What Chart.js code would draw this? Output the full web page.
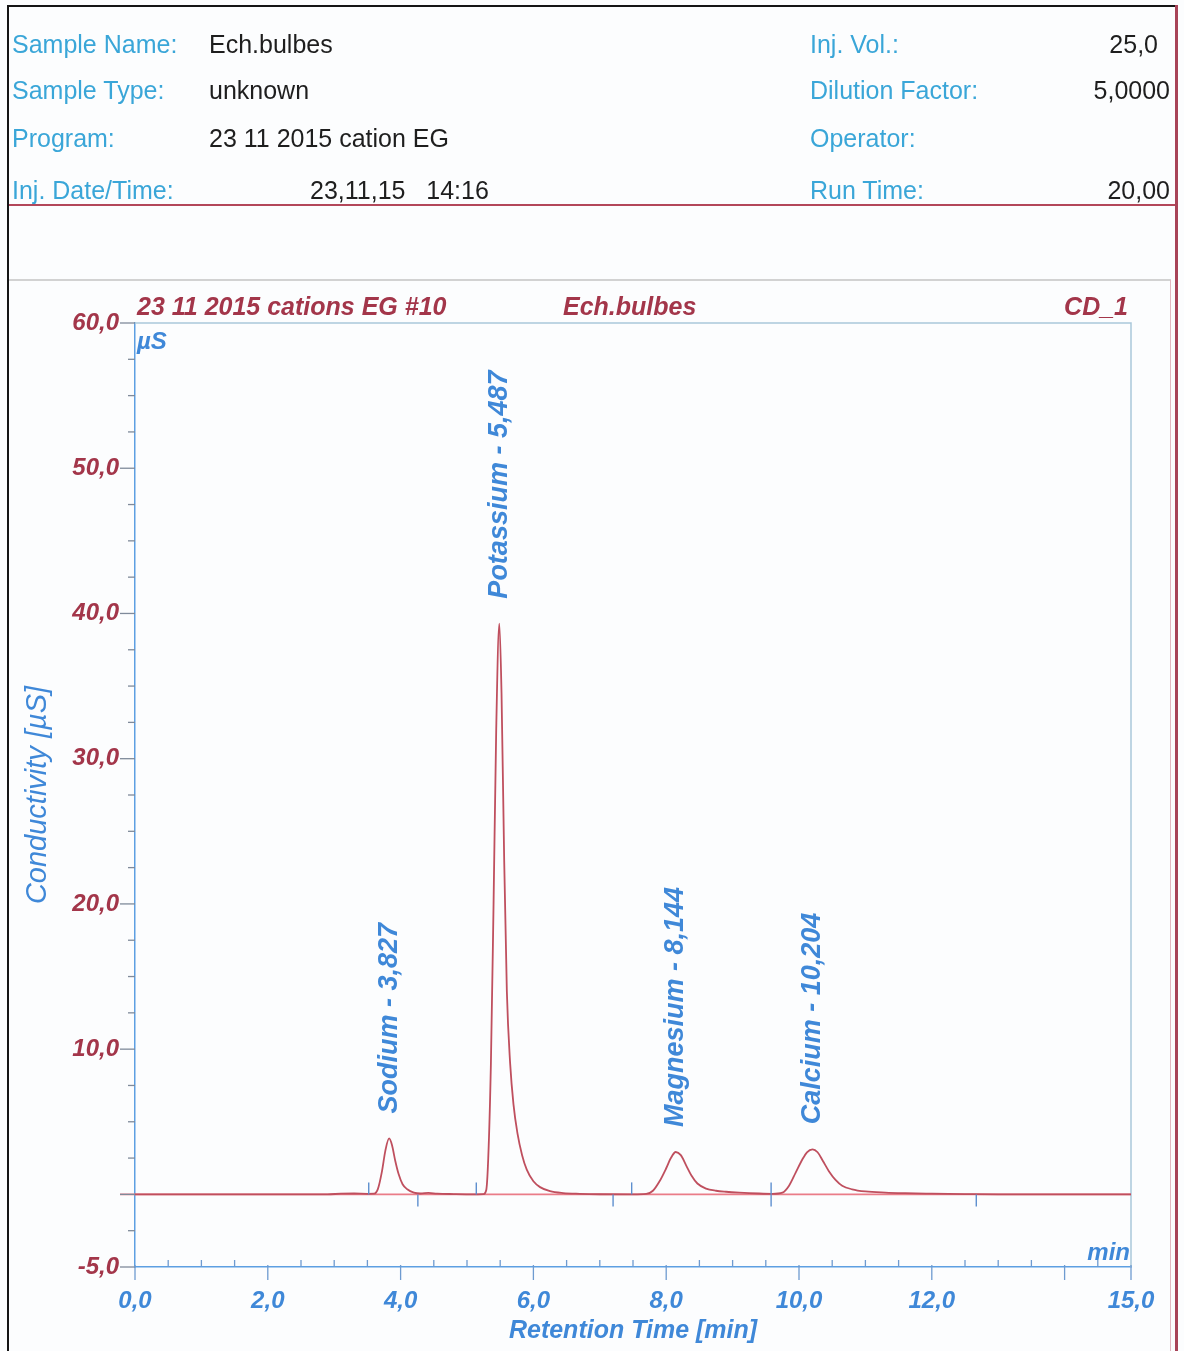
<!DOCTYPE html>
<html>
<head>
<meta charset="utf-8">
<title>Ech.bulbes – cations EG</title>
<script src="https://cdn.jsdelivr.net/npm/chart.js@4.4.1/dist/chart.umd.min.js"></script>
<style>
  html, body { margin: 0; padding: 0; background: #fcfdfe; }
  #page { position: relative; width: 1184px; height: 1351px; overflow: hidden;
          font-family: "Liberation Sans", Arial, sans-serif; }
  #chrom { position: absolute; left: 0; top: 0; }
  .lbl, .val, .ttl { position: absolute; white-space: nowrap; line-height: 1; font-size: 25px; }
  .lbl { color: #3aa6d8; }
  .val { color: #1e1e1e; }
  .ttl { color: #a3364a; font-weight: bold; font-style: italic; }
  .ln { position: absolute; }
</style>
</head>
<body>
<div id="page">
  <canvas id="chrom" width="1184" height="1351"></canvas>

  <!-- report frame -->
  <div class="ln" style="left:7px;top:5px;width:1171px;height:2px;background:#151515"></div>
  <div class="ln" style="left:7px;top:5px;width:2px;height:1346px;background:#151515"></div>
  <div class="ln" style="left:1175px;top:5px;width:3px;height:1346px;background:#a84458"></div>
  <div class="ln" style="left:9px;top:204px;width:1166px;height:2px;background:#b3475a"></div>
  <div class="ln" style="left:9px;top:279px;width:1162px;height:2px;background:#d2d2d2"></div>
  <div class="ln" style="left:1170px;top:280px;width:1px;height:1071px;background:#e2b8c0"></div>

  <!-- sample header -->
  <div class="lbl" style="left:12px;top:32px">Sample Name:</div>
  <div class="val" style="left:209px;top:32px">Ech.bulbes</div>
  <div class="lbl" style="left:12px;top:78px">Sample Type:</div>
  <div class="val" style="left:209px;top:78px">unknown</div>
  <div class="lbl" style="left:12px;top:126px">Program:</div>
  <div class="val" style="left:209px;top:126px">23 11 2015 cation EG</div>
  <div class="lbl" style="left:12px;top:178px">Inj. Date/Time:</div>
  <div class="val" style="left:310px;top:178px">23,11,15&nbsp;&nbsp;&nbsp;14:16</div>

  <div class="lbl" style="left:810px;top:32px">Inj. Vol.:</div>
  <div class="val" style="right:26px;top:32px">25,0</div>
  <div class="lbl" style="left:810px;top:78px">Dilution Factor:</div>
  <div class="val" style="right:14px;top:78px">5,0000</div>
  <div class="lbl" style="left:810px;top:126px">Operator:</div>
  <div class="lbl" style="left:810px;top:178px">Run Time:</div>
  <div class="val" style="right:14px;top:178px">20,00</div>

  <!-- chromatogram caption -->
  <div class="ttl" style="left:137px;top:294px">23 11 2015 cations EG #10</div>
  <div class="ttl" style="left:563px;top:294px">Ech.bulbes</div>
  <div class="ttl" style="right:56px;top:294px">CD_1</div>
</div>

<script>
// Detector trace: retention time [min] and conductivity [µS]
const retentionTime = [
  0.00, 1.00, 2.00, 2.90, 3.10, 3.30, 3.50, 3.60, 3.66, 3.72, 3.77, 3.827, 3.87, 3.92, 3.97,
  4.03, 4.10, 4.20, 4.30, 4.42, 4.55, 4.80, 5.10, 5.25, 5.29, 5.32, 5.36, 5.40, 5.44, 5.487,
  5.52, 5.56, 5.60, 5.65, 5.70, 5.76, 5.83, 5.90, 6.00, 6.10, 6.25, 6.45, 6.70, 7.00, 7.50, 7.70,
  7.80, 7.90, 8.00, 8.07, 8.144, 8.22, 8.30, 8.38, 8.47, 8.60, 8.75, 8.90, 9.10, 9.40, 9.60,
  9.75, 9.85, 9.95, 10.05, 10.12, 10.204, 10.28, 10.36, 10.45, 10.55, 10.65, 10.80, 11.00,
  11.30, 11.60, 12.00, 12.50, 13.00, 15.00
];
const conductivity = [
  0.00, 0.00, 0.00, 0.00, 0.05, 0.06, 0.04, 0.05, 0.40, 1.60, 3.00, 3.85, 3.40, 2.30, 1.40,
  0.70, 0.35, 0.12, 0.06, 0.10, 0.05, 0.02, 0.00, 0.02, 0.30, 2.50, 9.00, 20.0, 32.0, 39.3,
  34.5, 23.0, 14.0, 9.00, 6.20, 4.20, 2.70, 1.70, 0.90, 0.50, 0.22, 0.09, 0.04, 0.01, 0.00, 0.03,
  0.25, 0.90, 1.80, 2.50, 2.92, 2.70, 2.00, 1.30, 0.75, 0.40, 0.25, 0.18, 0.12, 0.06, 0.04,
  0.12, 0.60, 1.50, 2.40, 2.90, 3.10, 2.90, 2.30, 1.60, 1.00, 0.60, 0.35, 0.20,
  0.12, 0.08, 0.05, 0.02, 0.00, 0.00
];

// Identified peaks
const peakNames = ['Sodium', 'Potassium', 'Magnesium', 'Calcium'];
const peakTimes = [3.827, 5.487, 8.144, 10.204];
// Integration window delimiters [min]
const peakStart = [3.52, 5.14, 7.48, 9.58];
const peakEnd   = [4.26, 7.20, 9.58, 12.67];

// Axis ticks
const xLabelledTicks = [0, 2, 4, 6, 8, 10, 12, 15];
const yLabelledTicks = [60, 50, 40, 30, 20, 10, -5];
const xRange = [0, 15], xMinorStep = 0.5;
const yRange = [-5, 60], yMinorStep = 2.5;

const RED = '#a3364a';
const BLUE = '#3f88d8';
const fmt = (v, d) => v.toFixed(d).replace('.', ',');

function stepTicks(range, step) {
  const out = [];
  const n = Math.round((range[1] - range[0]) / step);
  for (let i = 0; i <= n; i++) out.push({ value: range[0] + i * step });
  return out;
}

const points = retentionTime.map((t, i) => ({ x: t, y: conductivity[i] }));

const chromPlugin = {
  id: 'chrom',
  beforeDatasetsDraw(chart) {
    const { ctx, chartArea: a, scales: { x, y } } = chart;
    ctx.save();
    // plot frame (top and right)
    ctx.strokeStyle = '#a9c7da';
    ctx.lineWidth = 1.5;
    ctx.beginPath();
    ctx.moveTo(a.left, a.top); ctx.lineTo(a.right, a.top); ctx.lineTo(a.right, a.bottom);
    ctx.stroke();
    // integration baseline
    const y0 = y.getPixelForValue(0);
    ctx.strokeStyle = '#ea7c88';
    ctx.lineWidth = 1.6;
    ctx.beginPath(); ctx.moveTo(a.left - 15, y0); ctx.lineTo(a.right, y0); ctx.stroke();
    ctx.restore();
  },
  afterDatasetsDraw(chart) {
    const { ctx, chartArea: a, scales: { x, y } } = chart;
    ctx.save();
    // y-axis tick marks
    ctx.lineWidth = 1.3;
    ctx.strokeStyle = '#7f8a9a';
    y.ticks.forEach(t => {
      const py = y.getPixelForValue(t.value);
      const major = t.value % 10 === 0 || yLabelledTicks.includes(t.value);
      ctx.beginPath(); ctx.moveTo(a.left - (major ? 15 : 7), py); ctx.lineTo(a.left, py); ctx.stroke();
    });
    // x-axis tick marks
    ctx.strokeStyle = '#6e9bd0';
    x.ticks.forEach(t => {
      const px = x.getPixelForValue(t.value);
      const major = t.value % 2 === 0 || xLabelledTicks.includes(t.value);
      ctx.beginPath();
      if (major) { ctx.moveTo(px, a.bottom - 2); ctx.lineTo(px, a.bottom + 13); }
      else { ctx.moveTo(px, a.bottom - 7); ctx.lineTo(px, a.bottom); }
      ctx.stroke();
    });
    // integration delimiters
    const y0 = y.getPixelForValue(0);
    ctx.strokeStyle = '#5d8fcf';
    ctx.lineWidth = 1.4;
    peakStart.forEach(t => {
      const px = x.getPixelForValue(t);
      ctx.beginPath(); ctx.moveTo(px, y0 - 12); ctx.lineTo(px, y0); ctx.stroke();
    });
    peakEnd.forEach(t => {
      const px = x.getPixelForValue(t);
      ctx.beginPath(); ctx.moveTo(px, y0); ctx.lineTo(px, y0 + 12); ctx.stroke();
    });
    // units
    ctx.fillStyle = BLUE;
    ctx.font = 'italic bold 24px "Liberation Sans", Arial, sans-serif';
    ctx.textBaseline = 'middle';
    ctx.textAlign = 'left';
    ctx.fillText('µS', a.left + 2, a.top + 19);
    ctx.textAlign = 'right';
    ctx.fillText('min', a.right - 1, a.bottom - 14);
    // peak labels
    ctx.font = 'italic bold 27px "Liberation Sans", Arial, sans-serif';
    ctx.textAlign = 'left';
    peakNames.forEach((name, i) => {
      const idx = retentionTime.indexOf(peakTimes[i]);
      const px = x.getPixelForValue(peakTimes[i]);
      const py = y.getPixelForValue(conductivity[idx]);
      ctx.save();
      ctx.translate(px, py - 25);
      ctx.rotate(-Math.PI / 2);
      ctx.fillText(name + ' - ' + fmt(peakTimes[i], 3), 0, 0);
      ctx.restore();
    });
    ctx.restore();
  }
};

new Chart(document.getElementById('chrom'), {
  type: 'line',
  data: {
    datasets: [{
      data: points,
      borderColor: '#bf4f5e',
      borderWidth: 1.8,
      pointRadius: 0,
      fill: false,
      cubicInterpolationMode: 'monotone'
    }]
  },
  options: {
    responsive: false,
    animation: false,
    devicePixelRatio: 1,
    layout: { padding: { top: 323, right: 53, bottom: 0, left: 0 } },
    plugins: { legend: { display: false }, tooltip: { enabled: false }, title: { display: false } },
    scales: {
      x: {
        type: 'linear', min: xRange[0], max: xRange[1],
        afterBuildTicks: s => { s.ticks = stepTicks(xRange, xMinorStep); },
        afterFit: s => { s.height = 84; },
        grid: { display: true, drawOnChartArea: false, drawTicks: true, tickLength: 14, tickColor: 'rgba(0,0,0,0)' },
        border: { display: true, color: '#5d9fe2', width: 1.5 },
        ticks: {
          autoSkip: false, maxRotation: 0, padding: 6, color: BLUE,
          font: { family: '"Liberation Sans", Arial, sans-serif', size: 24, weight: 'bold', style: 'italic' },
          callback: v => xLabelledTicks.includes(v) ? fmt(v, 1) : ''
        },
        title: {
          display: true, text: 'Retention Time [min]', color: BLUE,
          font: { family: '"Liberation Sans", Arial, sans-serif', size: 25, weight: 'bold', style: 'italic' },
          padding: { top: 0, bottom: 5 }
        }
      },
      y: {
        type: 'linear', min: yRange[0], max: yRange[1],
        afterBuildTicks: s => { s.ticks = stepTicks(yRange, yMinorStep); },
        afterFit: s => { s.width = 135; },
        grid: { display: true, drawOnChartArea: false, drawTicks: true, tickLength: 15, tickColor: 'rgba(0,0,0,0)' },
        border: { display: true, color: '#5d9fe2', width: 1.5 },
        ticks: {
          autoSkip: false, padding: 1, color: RED,
          font: { family: '"Liberation Sans", Arial, sans-serif', size: 24, weight: 'bold', style: 'italic' },
          callback: v => yLabelledTicks.includes(v) ? fmt(v, 1) : ''
        },
        title: {
          display: true, text: 'Conductivity [µS]', color: BLUE,
          font: { family: '"Liberation Sans", Arial, sans-serif', size: 29, style: 'italic' },
          padding: { top: 21, bottom: 0 }
        }
      }
    }
  },
  plugins: [chromPlugin]
});
</script>
</body>
</html>
